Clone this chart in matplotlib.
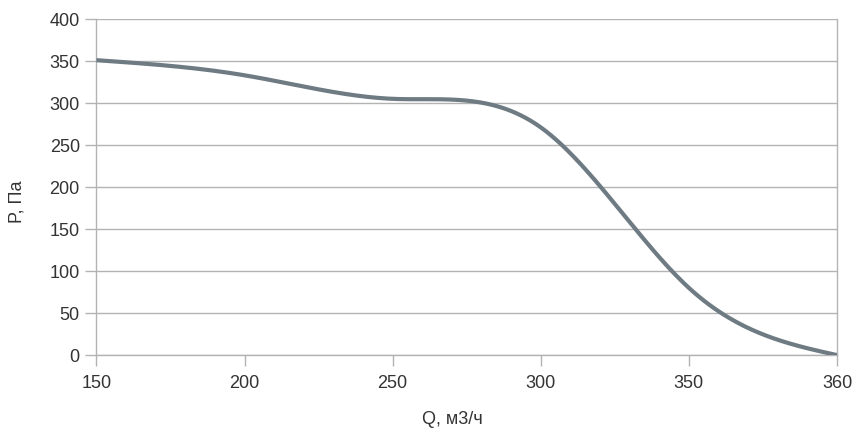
import numpy as np
import matplotlib
matplotlib.use("Agg")
import matplotlib.pyplot as plt

plt.rcParams['font.family'] = ['Liberation Sans', 'DejaVu Sans']

# categories on the x axis (category axis, equally spaced)
q_labels = ["150", "200", "250", "300", "350", "360"]
p_values = [351, 333, 305, 271, 80, 0]


def natural_spline(y, n=60):
  # natural cubic spline through equally spaced points (h = 1)
  y = np.asarray(y, dtype=float)
  k = len(y)
  A = np.zeros((k, k))
  b = np.zeros(k)
  A[0, 0] = A[-1, -1] = 1
  for i in range(1, k - 1):
    A[i, i - 1], A[i, i], A[i, i + 1] = 1, 4, 1
    b[i] = 6 * (y[i + 1] - 2 * y[i] + y[i - 1])
  M = np.linalg.solve(A, b)
  xs, ys = [], []
  for i in range(k - 1):
    t = np.linspace(0, 1, n)
    s = ((1 - t) * y[i] + t * y[i + 1]
         + ((1 - t) ** 3 - (1 - t)) * M[i] / 6
         + (t ** 3 - t) * M[i + 1] / 6)
    xs.append(i + t)
    ys.append(s)
  return np.concatenate(xs), np.concatenate(ys)


fig = plt.figure(figsize=(8.56, 4.32), dpi=100)
ax = fig.add_axes([0.1127, 0.178, 0.8651, 0.778])

sx, sy = natural_spline(p_values)
ax.plot(sx, sy, color="#6e7b83", linewidth=3, solid_capstyle="butt", zorder=3)

ax.set_xlim(0, len(q_labels) - 1)
ax.set_ylim(0, 400)
ax.set_xticks(range(len(q_labels)))
ax.set_xticklabels(q_labels)
ax.set_yticks(range(0, 401, 50))

ax.grid(axis="y", color="#b3b3b3", linewidth=1)
ax.set_axisbelow(True)
for s in ax.spines.values():
  s.set_color("#b3b3b3")
  s.set_linewidth(1)
ax.spines["top"].set_visible(False)
ax.tick_params(colors="#b3b3b3", labelcolor="#333333", labelsize=13, length=8, width=1)
ax.tick_params(axis="x", pad=6)
ax.tick_params(axis="y", pad=4)

ax.set_xlabel("Q, м3/ч", fontsize=13, color="#333333", va="center")
ax.set_ylabel("P, Па", fontsize=13, color="#333333", va="center")
ax.xaxis.set_label_coords(0.481, -0.193)
ax.yaxis.set_label_coords(-0.107, 0.457)

fig.savefig("out.png", dpi=100)
